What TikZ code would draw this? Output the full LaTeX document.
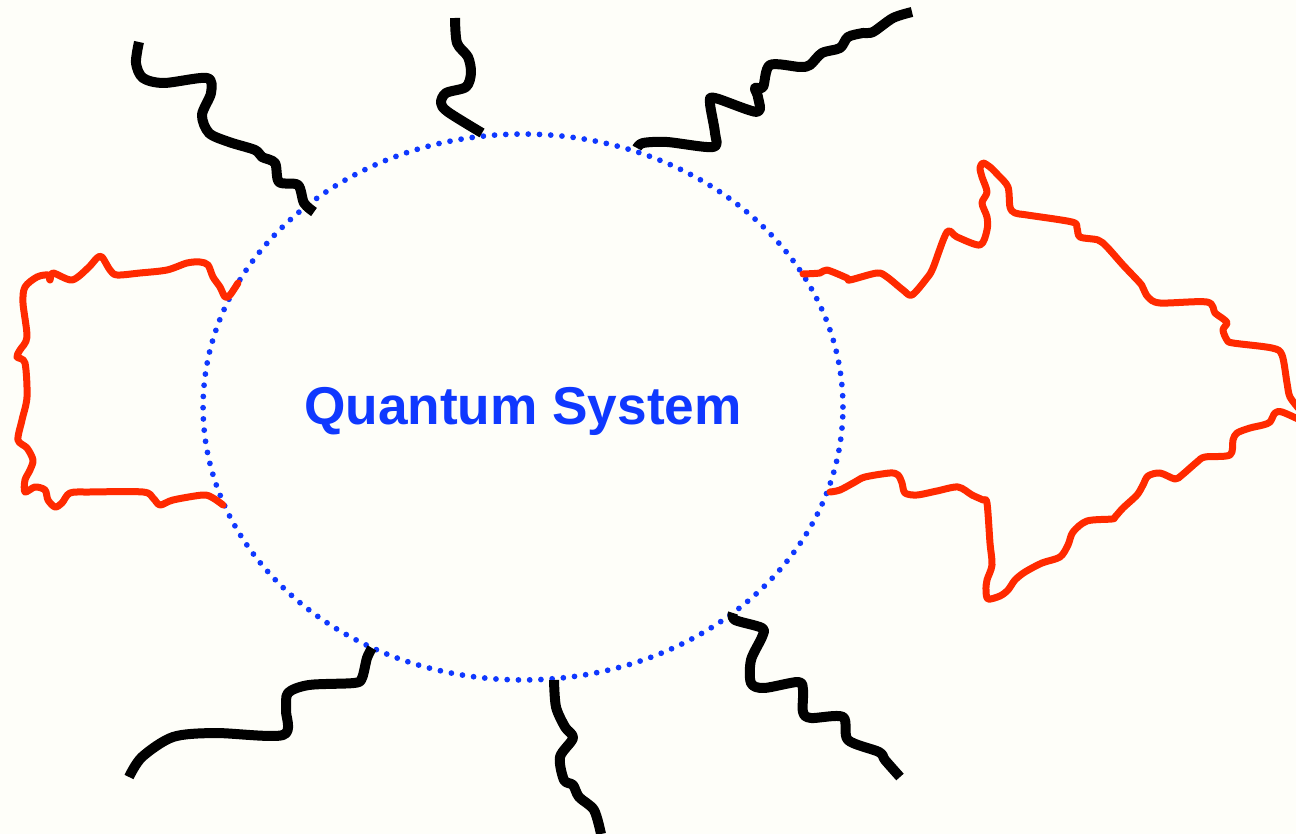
\documentclass[tikz,border=0pt]{standalone}
\usepackage{fontspec}
\setmainfont{Liberation Sans}
\usepackage{tikz}
\definecolor{paper}{HTML}{FEFEF9}
\definecolor{qblue}{HTML}{0F38FF}
\definecolor{bathred}{HTML}{FF2A00}
\tikzset{
  % omgivning
  qsys/.style={draw=qblue,line width=0.115cm,line cap=round,
               dash pattern=on 0pt off 0.225cm},
  qlabel/.style={text=qblue,font=\fontsize{30.3}{36}\selectfont\bfseries,
                 inner sep=0pt,anchor=base},
  bath/.style={draw=black,line width=0.2cm,line join=round},
  leak/.style={draw=bathred,line width=0.14cm,line join=round,line cap=round},
}
\begin{document}
\begin{tikzpicture}[x=0.02cm,y=-0.02cm]
  \fill[paper] (0,0) rectangle (1296,834);
  \useasboundingbox (0,0) rectangle (1296,834);
  \clip (0,0) rectangle (1296,834);
  \draw[qsys] (523,407) ellipse [x radius=6.4cm,y radius=5.46cm];
  \node[qlabel] (qs) at (523,425) {Quantum System};
  % svarta kopplingar
  \draw[bath] plot[smooth,tension=0.5] coordinates {(139,42) (136,63) (143,78)
    (164,83) (207,78) (211,93) (202,115) (209,133) (229,142) (255,150)
    (262,157) (275,163) (279,182) (298,185) (304,203) (314,212)};
  \draw[bath] plot[smooth,tension=0.5] coordinates {(455,18) (457,43) (468,57)
    (471,73) (466,87) (446,93) (441,103) (448,112) (482,133)};
  \draw[bath] plot[smooth,tension=0.5] coordinates {(637,148) (643,143)
    (667,142) (713,147) (715,133) (710,103) (715,98) (757,112) (758,97)
    (755,88) (763,87) (770,65) (800,67) (810,65) (822,53) (840,48) (848,37)
    (863,33) (873,32) (893,18) (912,12)};
  \draw[bath] plot[smooth,tension=0.5] coordinates {(129,777) (142,757)
    (173,737) (215,733) (283,735) (286,710) (288,693) (309,685) (354,683)
    (362,678) (367,658) (372,648)};
  \draw[bath] plot[smooth,tension=0.5] coordinates {(554,680) (556,707)
    (565,727) (573,738) (560,757) (564,780) (573,785) (579,797) (594,810)
    (601,834)};
  \draw[bath] plot[smooth,tension=0.5] coordinates {(733,613) (735,620)
    (762,628) (762,637) (751,660) (751,683) (764,688) (798,682) (803,690)
    (803,712) (811,718) (843,717) (848,740) (879,752) (885,760) (900,777)};
  % röda läckage
  \draw[leak] plot[smooth,tension=0.5] coordinates {(238,283) (230,295)
    (225,297) (220,287) (213,277) (208,265) (200,262) (187,263) (167,270)
    (140,273) (117,275) (110,270) (102,257) (97,258) (88,268) (72,280)
    (53,273) (50,280) (48,275) (37,277) (25,287) (23,303) (27,337) (20,350)
    (17,357) (25,363) (27,397) (22,420) (18,440) (27,448) (33,460) (30,470)
    (25,480) (25,492) (35,487) (45,490) (48,500) (55,507) (62,503) (70,493)
    (90,492) (143,492) (153,498) (160,505) (173,500) (203,495) (213,498)
    (223,505)};
  \draw[leak] plot[smooth,tension=0.5] coordinates {(803,274) (820,273)
    (827,270) (847,278) (850,280) (877,273) (887,277) (903,290) (912,295)
    (927,278) (933,268) (947,232) (957,237) (980,245) (987,230) (987,217)
    (982,203) (987,192) (982,177) (980,168) (983,163) (990,167) (998,175)
    (1008,187) (1010,207) (1015,213) (1027,215) (1072,222) (1077,228)
    (1080,237) (1098,240) (1107,247) (1123,265) (1140,283) (1143,288)
    (1148,297) (1160,303) (1207,302) (1215,313) (1222,318) (1227,323)
    (1223,330) (1227,340) (1233,343) (1272,348) (1282,355) (1287,383)
    (1290,397) (1300,410)};
  \draw[leak] plot[smooth,tension=0.5] coordinates {(1300,420) (1282,412)
    (1275,413) (1270,422) (1263,425) (1250,428) (1237,433) (1233,440)
    (1230,455) (1205,457) (1197,462) (1182,475) (1175,479) (1160,473)
    (1148,476) (1143,485) (1137,495) (1123,508) (1115,517) (1112,519)
    (1087,521) (1073,532) (1068,545) (1060,557) (1042,563) (1025,572)
    (1015,580) (1008,590) (1000,596) (988,599) (986,590) (987,580) (992,565)
    (990,543) (987,503) (983,500) (972,495) (958,487) (937,491) (917,495)
    (905,493) (902,483) (898,475) (890,473) (865,477) (855,482) (840,490)
    (830,492)};
\end{tikzpicture}
\end{document}
